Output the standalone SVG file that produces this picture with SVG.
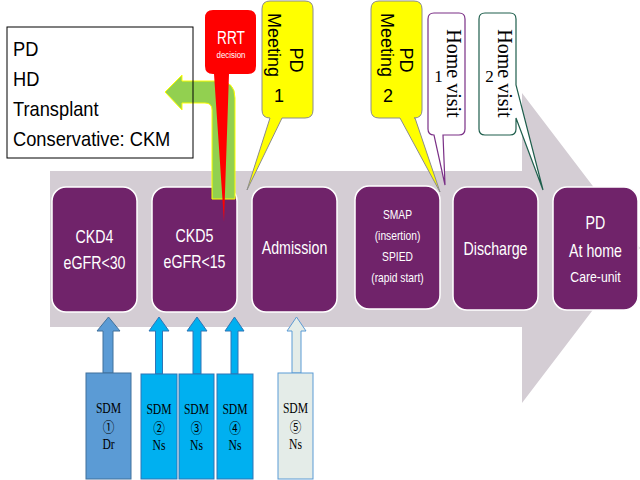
<svg xmlns="http://www.w3.org/2000/svg" width="640" height="480" viewBox="0 0 640 480">
<style>
.box{fill:#70236A;stroke:#FFFFFF;stroke-width:1.5}
.bt{font-family:"Liberation Sans",Arial,sans-serif;fill:#FFFFFF;text-anchor:middle}
.lt{font-family:"Liberation Sans",Arial,sans-serif;fill:#000000;font-size:21px}
.vt{font-family:"Liberation Sans",Arial,sans-serif;fill:#000000;font-size:18px;text-anchor:middle}
.st{font-family:"Liberation Serif","Noto Sans CJK JP",serif;fill:#000000;text-anchor:middle}
.sdm1{fill:#5B9BD5;stroke:#41719C;stroke-width:1}
.sdm2{fill:#00B0F0;stroke:#2E75B6;stroke-width:1}
.sdm5{fill:#E4ECE8;stroke:#5B9BD5;stroke-width:1}
</style>
<rect width="640" height="480" fill="#FFFFFF"/>
<g id="timeline-arrow">
<path d="M50,171 H522 V93 L640,248 L522,403 V327 H50 Z" fill="#D4CDD4"/>
</g>
<g id="ckd4">
<rect class="box" x="52" y="187" width="85" height="125" rx="14"/>
<g transform="translate(94.5,0) scale(0.79,1)"><text class="bt" x="0" y="243" font-size="18">CKD4</text><text class="bt" x="0" y="269" font-size="18">eGFR&lt;30</text></g>
</g>
<g id="ckd5">
<rect class="box" x="152" y="187" width="85" height="125" rx="14"/>
<g transform="translate(194.5,0) scale(0.79,1)"><text class="bt" x="0" y="242" font-size="18">CKD5</text><text class="bt" x="0" y="268" font-size="18">eGFR&lt;15</text></g>
</g>
<g id="admission">
<rect class="box" x="252" y="187" width="85" height="125" rx="14"/>
<g transform="translate(294.5,0) scale(0.79,1)"><text class="bt" x="0" y="254" font-size="18">Admission</text></g>
</g>
<g id="smap">
<rect class="box" x="355" y="186" width="85" height="123" rx="14"/>
<g transform="translate(397.5,0) scale(0.79,1)"><text class="bt" x="0" y="219" font-size="13">SMAP</text><text class="bt" x="0" y="240" font-size="13">(insertion)</text><text class="bt" x="0" y="261" font-size="13">SPIED</text><text class="bt" x="0" y="282" font-size="13">(rapid start)</text></g>
</g>
<g id="discharge">
<rect class="box" x="453" y="187" width="85" height="123" rx="14"/>
<g transform="translate(495.5,0) scale(0.79,1)"><text class="bt" x="0" y="255" font-size="18">Discharge</text></g>
</g>
<g id="pd-home">
<rect class="box" x="553" y="187" width="85" height="123" rx="14"/>
<g transform="translate(595.5,0) scale(0.79,1)"><text class="bt" x="0" y="229" font-size="18">PD</text><text class="bt" x="0" y="257" font-size="18">At home</text><text class="bt" x="0" y="282" font-size="15.5">Care-unit</text></g>
</g>
<g id="connectors">
<path id="rrt-options-arrow" d="M165,92 L182,75 L182,81 L218,81 Q235,81 235,98 L235,199 L212,199 L212,110 Q212,103 205,103 L182,103 L182,110 Z" fill="#92D050" stroke="#FFFF00" stroke-width="1"/>
<path d="M103,373 V331 H97 L108.5,317 L120,331 H113 V373 Z" class="sdm1"/>
<path d="M155.5,374 V331 H149 L159,317 L169,331 H162.5 V374 Z" class="sdm2"/>
<path d="M193,374 V331 H187 L197,317 L207,331 H201 V374 Z" class="sdm2"/>
<path d="M231,374 V331 H225 L234.5,317 L244,331 H238 V374 Z" class="sdm2"/>
<path d="M292,373 V331 H287 L296.5,317 L306,331 H301 V373 Z" class="sdm5"/>
</g>
<g id="options">
<rect x="7" y="27" width="186" height="131" fill="none" stroke="#000000" stroke-width="1"/>
<g transform="translate(13,0) scale(0.87,1)">
<text class="lt" x="0" y="56">PD</text>
<text class="lt" x="0" y="86">HD</text>
<text class="lt" x="0" y="116">Transplant</text>
<text class="lt" x="0" y="146">Conservative: CKM</text>
</g>
</g>
<g id="pd-meeting-1">
<path d="M270,1 H305 Q313,1 313,9 V110 Q313,118 305,118 H282 L247,190 L270,118 Q262,118 262,110 V9 Q262,1 270,1 Z" fill="#FFFF00" stroke="#8C8C8C" stroke-width="1"/>
<text class="vt" transform="translate(290,60) rotate(90)">PD</text>
<text class="vt" transform="translate(268,45) rotate(90)">Meeting</text>
<text class="vt" x="279" y="102">1</text>
</g>
<g id="pd-meeting-2">
<path d="M379,1 H414 Q422,1 422,9 V110 Q422,118 414,118 H415 L440,192 L400,118 H379 Q371,118 371,110 V9 Q371,1 379,1 Z" fill="#FFFF00" stroke="#8C8C8C" stroke-width="1"/>
<text class="vt" transform="translate(400,60) rotate(90)">PD</text>
<text class="vt" transform="translate(381,45) rotate(90)">Meeting</text>
<text class="vt" x="388" y="102">2</text>
</g>
<g id="home-visit-1">
<path d="M434,13 H459 Q465,13 465,19 V129 Q465,135 459,135 H443 L445,185 L434,135 Q428,135 428,129 V19 Q428,13 434,13 Z" fill="#FFFFFF" stroke="#7A2F86" stroke-width="1.2"/>
<text class="st" font-size="20" transform="translate(447,73.5) rotate(90)">Home visit</text>
<text class="st" font-size="17" x="438.5" y="82">1</text>
</g>
<g id="home-visit-2">
<path d="M485,13 H510 Q516,13 516,19 V85 L543,190 L516,118 V129 Q516,135 510,135 H485 Q479,135 479,129 V19 Q479,13 485,13 Z" fill="#FFFFFF" stroke="#1E5E4C" stroke-width="1.2"/>
<text class="st" font-size="20" transform="translate(498,73.5) rotate(90)">Home visit</text>
<text class="st" font-size="17" x="489.5" y="82">2</text>
</g>
<g id="rrt-decision">
<path d="M213,10 H248 Q256,10 256,18 V66 Q256,74 248,74 H229 L224,222 L214,74 H213 Q205,74 205,66 V18 Q205,10 213,10 Z" fill="#FF0000"/>
<g transform="translate(231,0) scale(0.76,1)"><text class="bt" x="0" y="44" font-size="18">RRT</text></g>
<g transform="translate(231,0) scale(0.88,1)"><text class="bt" x="0" y="58" font-size="9">decision</text></g>
</g>
<g id="sdm-1">
<rect class="sdm1" x="86" y="373" width="45" height="106"/>
<g transform="translate(108.5,0) scale(0.83,1)"><text class="st" x="0" y="413" font-size="14">SDM</text><text class="st" x="0" y="432" font-size="14">①</text><text class="st" x="0" y="449" font-size="14">Dr</text></g>
</g>
<g id="sdm-2">
<rect class="sdm2" x="141" y="374" width="36" height="105"/>
<g transform="translate(159,0) scale(0.83,1)"><text class="st" x="0" y="414" font-size="14">SDM</text><text class="st" x="0" y="433" font-size="14">②</text><text class="st" x="0" y="450" font-size="14">Ns</text></g>
</g>
<g id="sdm-3">
<rect class="sdm2" x="179" y="374" width="35" height="105"/>
<g transform="translate(196.5,0) scale(0.83,1)"><text class="st" x="0" y="414" font-size="14">SDM</text><text class="st" x="0" y="433" font-size="14">③</text><text class="st" x="0" y="450" font-size="14">Ns</text></g>
</g>
<g id="sdm-4">
<rect class="sdm2" x="217" y="374" width="36" height="105"/>
<g transform="translate(235,0) scale(0.83,1)"><text class="st" x="0" y="414" font-size="14">SDM</text><text class="st" x="0" y="433" font-size="14">④</text><text class="st" x="0" y="450" font-size="14">Ns</text></g>
</g>
<g id="sdm-5">
<rect class="sdm5" x="278" y="373" width="35" height="106"/>
<g transform="translate(295.5,0) scale(0.83,1)"><text class="st" x="0" y="413" font-size="14">SDM</text><text class="st" x="0" y="432" font-size="14">⑤</text><text class="st" x="0" y="449" font-size="14">Ns</text></g>
</g>
</svg>
